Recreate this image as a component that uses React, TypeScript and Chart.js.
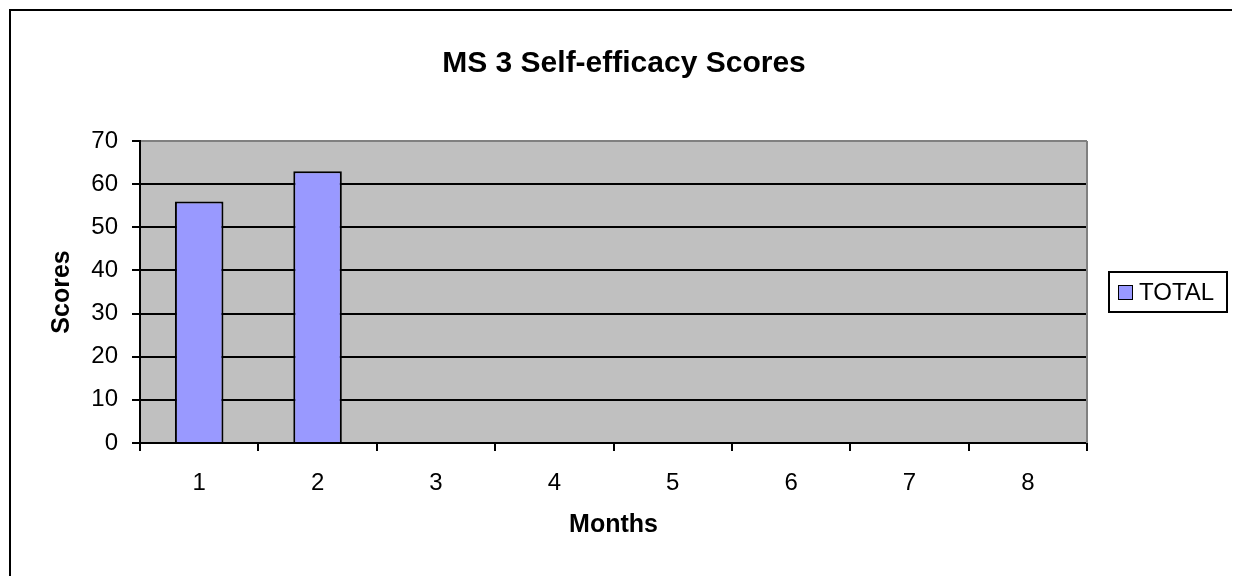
import React, { useEffect, useRef } from "react";
import { Chart, registerables } from "chart.js";

Chart.register(...registerables);

const chartTitle = "MS 3 Self-efficacy Scores";
const xAxisTitle = "Months";
const yAxisTitle = "Scores";
const categories = ["1", "2", "3", "4", "5", "6", "7", "8"];
const seriesLabel = "TOTAL";
const totalScores: (number | null)[] = [56, 63, null, null, null, null, null, null];
const yMin = 0;
const yMax = 70;
const yStep = 10;

const FONT = "'Liberation Sans', Arial, sans-serif";
const BAR_FILL = "#9999FF";
const PLOT_BG = "#C0C0C0";
const PLOT_EDGE = "#808080";

const excelFrame = {
  id: "excelFrame",
  beforeDraw(chart: any) {
    const { ctx, chartArea } = chart;
    const { left, top, right, bottom } = chartArea;
    ctx.save();
    ctx.fillStyle = PLOT_BG;
    ctx.fillRect(left, top, right - left, bottom - top);
    ctx.restore();
  },
  beforeDatasetsDraw(chart: any) {
    const { ctx, chartArea } = chart;
    const { top, right, bottom } = chartArea;
    ctx.save();
    ctx.strokeStyle = PLOT_EDGE;
    ctx.lineWidth = 2;
    ctx.beginPath();
    ctx.moveTo(right, top);
    ctx.lineTo(right, bottom);
    ctx.stroke();
    ctx.restore();
  },
  afterDraw(chart: any) {
    const { ctx, chartArea } = chart;
    const ds = chart.data.datasets[0];
    const cy = Math.round((chartArea.top + chartArea.bottom) / 2);
    const bx = chartArea.right + 21;
    const bw = 120;
    const bh = 42;
    const by = cy - 21;
    ctx.save();
    ctx.fillStyle = "#ffffff";
    ctx.fillRect(bx, by, bw, bh);
    ctx.strokeStyle = "#000";
    ctx.lineWidth = 2;
    ctx.strokeRect(bx + 1, by + 1, bw - 2, bh - 2);
    // marker
    ctx.fillStyle = ds.backgroundColor;
    ctx.fillRect(bx + 10, cy - 7, 15, 15);
    ctx.lineWidth = 1;
    ctx.strokeRect(bx + 10.5, cy - 6.5, 14, 14);
    // text
    ctx.fillStyle = "#000";
    ctx.font = `24px ${FONT}`;
    ctx.textAlign = "left";
    ctx.textBaseline = "middle";
    ctx.fillText(ds.label, bx + 31, cy + 1);
    ctx.restore();
  },
};

export default function App() {
  const canvasRef = useRef<HTMLCanvasElement | null>(null);

  useEffect(() => {
    if (!canvasRef.current) return;
    const chart = new Chart(canvasRef.current, {
      type: "bar",
      data: {
        labels: categories,
        datasets: [
          {
            label: seriesLabel,
            data: totalScores,
            backgroundColor: BAR_FILL,
            borderColor: "#000",
            borderWidth: 2,
            barPercentage: 0.41,
            categoryPercentage: 1,
            xAxisID: "x",
            yAxisID: "y",
          },
        ],
      },
      options: {
        responsive: false,
        animation: false,
        layout: { padding: 0 },
        plugins: {
          legend: { display: false },
          tooltip: { enabled: false },
          title: {
            display: true,
            text: chartTitle,
            color: "#000",
            font: { family: FONT, size: 30, weight: "bold" },
            padding: { top: 38, bottom: 59 },
          },
        },
        scales: {
          x: {
            position: "bottom",
            offset: true,
            grid: {
              display: true,
              offset: true,
              drawOnChartArea: false,
              drawTicks: true,
              tickLength: 8,
              color: "#000",
              lineWidth: 2,
            },
            border: { display: true, color: "#000", width: 2 },
            ticks: {
              color: "#000",
              padding: 18,
              maxRotation: 0,
              autoSkip: false,
              font: { family: FONT, size: 24 },
            },
            title: {
              display: true,
              text: xAxisTitle,
              color: "#000",
              font: { family: FONT, size: 25, weight: "bold" },
              padding: { top: 0, bottom: 36 },
            },
            afterFit: (s: any) => {
              s.height = 133;
            },
          },
          y: {
            position: "left",
            min: yMin,
            max: yMax,
            grid: {
              display: true,
              drawOnChartArea: true,
              drawTicks: true,
              tickLength: 8,
              color: (c: any) => (c.tick && c.tick.value === yMax ? PLOT_EDGE : "#000"),
              tickColor: "#000",
              lineWidth: 2,
            },
            border: { display: true, color: "#000", width: 2 },
            ticks: {
              stepSize: yStep,
              color: "#000",
              padding: 14,
              font: { family: FONT, size: 24 },
            },
            title: {
              display: true,
              text: yAxisTitle,
              color: "#000",
              font: { family: FONT, size: 25, weight: "bold" },
              padding: { top: 39, bottom: 0 },
            },
            afterFit: (s: any) => {
              s.width = 132;
            },
          },
          yRight: {
            type: "linear",
            position: "right",
            display: true,
            grid: { display: false, drawTicks: false },
            border: { display: false },
            ticks: { display: false },
            afterFit: (s: any) => {
              s.width = 153;
            },
          },
        },
      },
      plugins: [excelFrame],
    } as any);
    return () => chart.destroy();
  }, []);

  return (
    <div style={{ position: "relative", width: 1232, height: 568 }}>
      <canvas ref={canvasRef} width={1232} height={568} style={{ display: "block" }} />
      <div
        style={{
          position: "absolute",
          left: 1,
          top: 1,
          width: 1231,
          height: 567,
          borderLeft: "2px solid #000",
          borderTop: "2px solid #000",
          boxSizing: "border-box",
          pointerEvents: "none",
        }}
      />
    </div>
  );
}
